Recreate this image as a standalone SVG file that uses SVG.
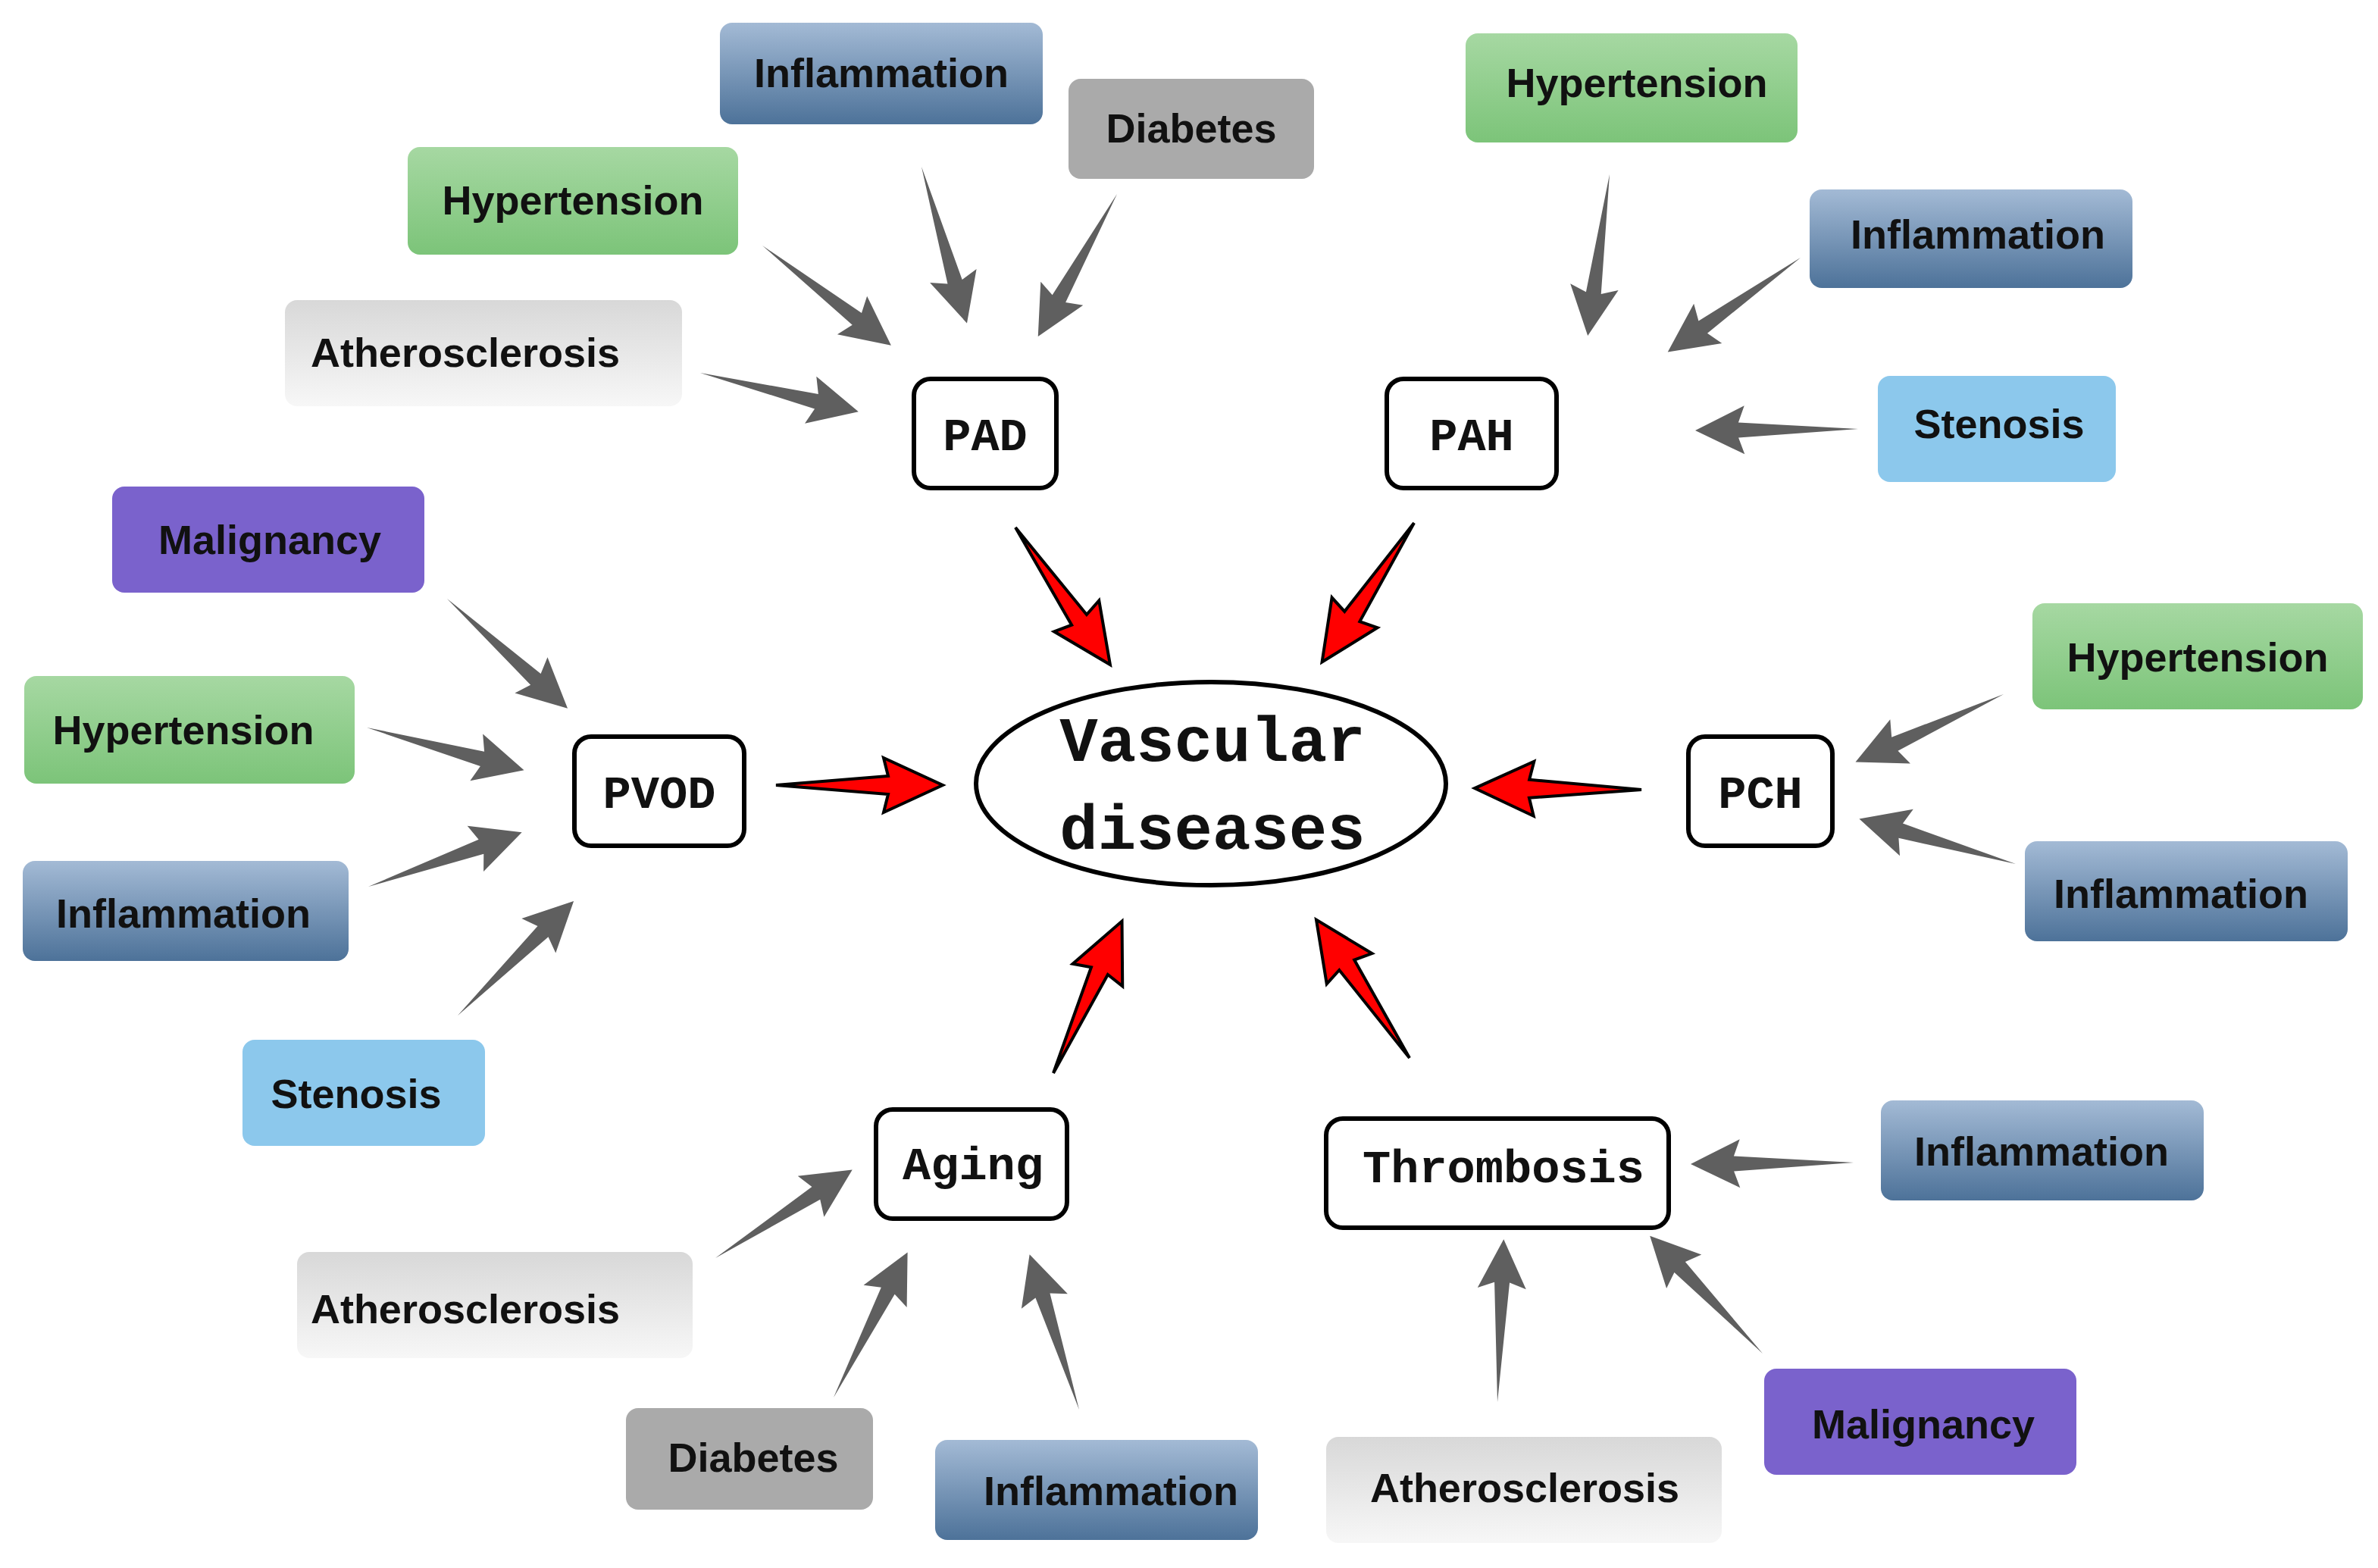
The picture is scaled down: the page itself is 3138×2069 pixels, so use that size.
<svg xmlns="http://www.w3.org/2000/svg" width="3138" height="2069" viewBox="0 0 3138 2069">
<style>
.lb text,.t{font-family:"Liberation Sans",Arial,sans-serif;font-weight:bold;font-size:54px;text-anchor:middle;fill:#111}
.n rect{fill:#fff;stroke:#000;stroke-width:6}
.n text{font-family:"Liberation Mono","Courier New",monospace;font-weight:bold;font-size:62px;text-anchor:middle;fill:#111}
.blue{fill:url(#gb)}.green{fill:url(#gg)}.gray{fill:#aaaaaa}.lg{fill:url(#gl)}.sb{fill:#8cc8ec}.pu{fill:#7a62cc}
</style>
<defs>
<linearGradient id="gb" x1="0" y1="0" x2="0" y2="1"><stop offset="0" stop-color="#a3bad5"/><stop offset="1" stop-color="#4d7299"/></linearGradient>
<linearGradient id="gg" x1="0" y1="0" x2="0" y2="1"><stop offset="0" stop-color="#a6d8a2"/><stop offset="1" stop-color="#7cc479"/></linearGradient>
<linearGradient id="gl" x1="0" y1="0" x2="0" y2="1"><stop offset="0" stop-color="#d8d8d8"/><stop offset="1" stop-color="#f7f7f7"/></linearGradient>
<path id="ga" d="M0,0 L158,-10 L150,-32 L215,0 L150,32 L158,10 Z" fill="#5f5f5f"/>
<path id="ra" d="M0,0 L148,-12 L142,-36 L220,0 L142,36 L148,12 Z" fill="#ff0000" stroke="#000" stroke-width="4" stroke-linejoin="miter"/>
</defs>
<rect width="3138" height="2069" fill="#fff"/>
<g id="labels" class="lb">
<g id="l1"><rect class="blue" x="950" y="30" width="426" height="134" rx="16"/><text x="1163" y="115">Inflammation</text></g>
<g id="l2"><rect class="gray" x="1410" y="104" width="324" height="132" rx="16"/><text x="1572" y="188">Diabetes</text></g>
<g id="l3"><rect class="green" x="538" y="194" width="436" height="142" rx="16"/><text x="756" y="283">Hypertension</text></g>
<g id="l4"><rect class="lg" x="376" y="396" width="524" height="140" rx="16"/><text x="614" y="484">Atherosclerosis</text></g>
<g id="l5"><rect class="green" x="1934" y="44" width="438" height="144" rx="16"/><text x="2160" y="128">Hypertension</text></g>
<g id="l6"><rect class="blue" x="2388" y="250" width="426" height="130" rx="16"/><text x="2610" y="328">Inflammation</text></g>
<g id="l7"><rect class="sb" x="2478" y="496" width="314" height="140" rx="16"/><text x="2638" y="578">Stenosis</text></g>
<g id="l8"><rect class="pu" x="148" y="642" width="412" height="140" rx="16"/><text x="356" y="731">Malignancy</text></g>
<g id="l9"><rect class="green" x="32" y="892" width="436" height="142" rx="16"/><text x="242" y="982">Hypertension</text></g>
<g id="l10"><rect class="blue" x="30" y="1136" width="430" height="132" rx="16"/><text x="242" y="1224">Inflammation</text></g>
<g id="l11"><rect class="sb" x="320" y="1372" width="320" height="140" rx="16"/><text x="470" y="1462">Stenosis</text></g>
<g id="l12"><rect class="green" x="2682" y="796" width="436" height="140" rx="16"/><text x="2900" y="886">Hypertension</text></g>
<g id="l13"><rect class="blue" x="2672" y="1110" width="426" height="132" rx="16"/><text x="2878" y="1198">Inflammation</text></g>
<g id="l14"><rect class="blue" x="2482" y="1452" width="426" height="132" rx="16"/><text x="2694" y="1538">Inflammation</text></g>
<g id="l15"><rect class="pu" x="2328" y="1806" width="412" height="140" rx="16"/><text x="2538" y="1898">Malignancy</text></g>
<g id="l16"><rect class="lg" x="1750" y="1896" width="522" height="140" rx="16"/><text x="2012" y="1982">Atherosclerosis</text></g>
<g id="l17"><rect class="lg" x="392" y="1652" width="522" height="140" rx="16"/><text x="614" y="1746">Atherosclerosis</text></g>
<g id="l18"><rect class="gray" x="826" y="1858" width="326" height="134" rx="16"/><text x="994" y="1942">Diabetes</text></g>
<g id="l19"><rect class="blue" x="1234" y="1900" width="426" height="132" rx="16"/><text x="1466" y="1986">Inflammation</text></g>
</g>
<g id="nodes" class="n">
<g id="pad"><rect x="1206" y="500" width="188" height="144" rx="22"/><text x="1300" y="594">PAD</text></g>
<g id="pah"><rect x="1830" y="500" width="224" height="144" rx="22"/><text x="1942" y="594">PAH</text></g>
<g id="pvod"><rect x="758" y="972" width="224" height="144" rx="22"/><text x="870" y="1066">PVOD</text></g>
<g id="pch"><rect x="2228" y="972" width="190" height="144" rx="22"/><text x="2323" y="1066">PCH</text></g>
<g id="aging"><rect x="1156" y="1464" width="252" height="144" rx="22"/><text x="1284" y="1556">Aging</text></g>
<g id="thrombosis"><rect x="1750" y="1476" width="452" height="144" rx="22"/><text x="1984" y="1560">Thrombosis</text></g>
<g id="vascular"><ellipse cx="1598" cy="1034" rx="310" ry="134" fill="#fff" stroke="#000" stroke-width="6"/><text class="t" x="1600" y="1004" style="font-size:84px">Vascular</text><text class="t" x="1600" y="1120" style="font-size:84px">diseases</text></g>
</g>
<g id="connectors">
<use href="#ga" transform="translate(924,492) rotate(13.8)"/>
<use href="#ga" transform="translate(1006,324) rotate(37.8)"/>
<use href="#ga" transform="translate(1216,220) rotate(73.8)"/>
<use href="#ga" transform="translate(1474,256) rotate(119)"/>
<use href="#ga" transform="translate(2124,230) rotate(97.7)"/>
<use href="#ga" transform="translate(2376,340) rotate(144.6)"/>
<use href="#ga" transform="translate(2452,566) rotate(179.5)"/>
<use href="#ga" transform="translate(590,790) rotate(42.3)"/>
<use href="#ga" transform="translate(484,960) rotate(15.2)"/>
<use href="#ga" transform="translate(486,1170) rotate(-19.5)"/>
<use href="#ga" transform="translate(604,1340) rotate(-44.6)"/>
<use href="#ga" transform="translate(2644,916) rotate(155.4)"/>
<use href="#ga" transform="translate(2660,1140) rotate(196.1)"/>
<use href="#ga" transform="translate(944,1660) rotate(-32.8)"/>
<use href="#ga" transform="translate(1100,1844) rotate(-63)"/>
<use href="#ga" transform="translate(1424,1860) rotate(-107.7)"/>
<use href="#ga" transform="translate(2446,1534) rotate(179.5)"/>
<use href="#ga" transform="translate(2326,1786) rotate(-133.8)"/>
<use href="#ga" transform="translate(1976,1850) rotate(-87.8)"/>
<use href="#ra" transform="translate(1340,696) rotate(55.4)"/>
<use href="#ra" transform="translate(1866,690) rotate(123.5)"/>
<use href="#ra" transform="translate(1024,1036) rotate(0)"/>
<use href="#ra" transform="translate(2166,1042) rotate(180.5)"/>
<use href="#ra" transform="translate(1390,1416) rotate(-65.7)"/>
<use href="#ra" transform="translate(1860,1396) rotate(-124)"/>
</g>
</svg>
